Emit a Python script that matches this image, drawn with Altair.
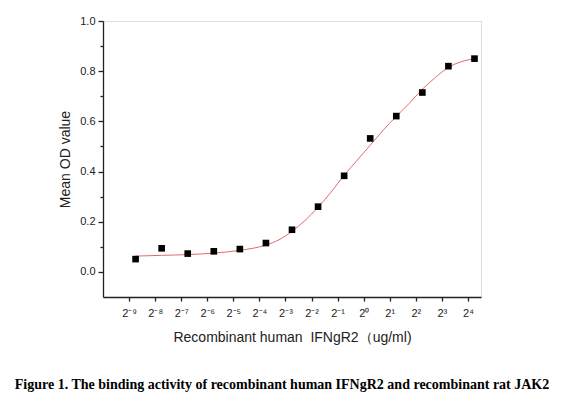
import altair as alt
import pandas as pd

# measured data points (x = log2 of concentration in ug/ml)
x_points = [-8.75, -7.75, -6.75, -5.75, -4.75, -3.75, -2.75, -1.75, -0.75, 0.25, 1.25, 2.25, 3.25, 4.25]
od_points = [0.051, 0.094, 0.073, 0.082, 0.091, 0.115, 0.168, 0.260, 0.383, 0.532, 0.621, 0.715, 0.820, 0.850]

# fitted curve
x_curve = [-8.75, -7.75, -6.75, -5.75, -4.75, -3.75, -3.25, -2.75, -2.25, -1.75, -1.25, -0.75,
           -0.25, 0.25, 0.75, 1.25, 1.75, 2.25, 2.75, 3.25, 3.75, 4.25]
od_curve = [0.063, 0.066, 0.069, 0.075, 0.086, 0.107, 0.128, 0.162, 0.205, 0.258, 0.318, 0.385,
            0.445, 0.505, 0.565, 0.620, 0.672, 0.728, 0.775, 0.815, 0.838, 0.850]

x_tick_values = [-9, -8, -7, -6, -5, -4, -3, -2, -1, 0, 1, 2, 3, 4]
x_tick_labels = ["2⁻⁹", "2⁻⁸", "2⁻⁷", "2⁻⁶", "2⁻⁵", "2⁻⁴", "2⁻³", "2⁻²", "2⁻¹",
                 "2⁰", "2¹", "2²", "2³", "2⁴"]
y_major = [0.0, 0.2, 0.4, 0.6, 0.8, 1.0]
y_minor = [0.1, 0.3, 0.5, 0.7, 0.9]

x_title = "Recombinant human\u00a0 IFNgR2（ug/ml)"
y_title = "Mean OD value"
caption = "Figure 1. The binding activity of recombinant human IFNgR2 and recombinant rat JAK2"

pts = pd.DataFrame({"x": x_points, "od": od_points})
crv = pd.DataFrame({"x": x_curve, "od": od_curve})

label_expr = "".join(
    f"datum.value == {v} ? '{l}' : " for v, l in zip(x_tick_values, x_tick_labels)
) + "''"

FONT = "Liberation Sans"
xscale = alt.Scale(domain=[-10, 4.5], nice=False, zero=False)
yscale = alt.Scale(domain=[-0.1, 1.0], nice=False, zero=False)

axis_common = dict(grid=False, domainColor="#222222", tickColor="#222222",
                   domainWidth=1.3, tickWidth=1.3, labelColor="#222222",
                   labelFont=FONT, titleFont=FONT, titleColor="#222222",
                   titleFontWeight="normal")

x_axis = alt.Axis(values=x_tick_values, labelExpr=label_expr, tickSize=4,
                  labelFontSize=11, labelPadding=6, title=x_title,
                  labelOverlap=False, labelBound=False,
                  titleFontSize=14, titlePadding=12, labelFlush=False,
                  **axis_common)

points = alt.Chart(pts).mark_point(shape="square", filled=True, color="black",
                                   size=44, opacity=1).encode(
    x=alt.X("x:Q", scale=xscale, axis=x_axis),
    y=alt.Y("od:Q", scale=yscale,
            axis=alt.Axis(values=y_major, format=".1f", tickSize=5, labelFontSize=11,
                          labelPadding=3, title=y_title, titleFontSize=14,
                          titlePadding=7, labelFlush=False, orient="left", **axis_common)),
)

curve = alt.Chart(crv).mark_line(interpolate="monotone", color="#e26a6a",
                                 strokeWidth=1).encode(
    x=alt.X("x:Q", scale=xscale, axis=x_axis),
    y=alt.Y("od:Q", scale=yscale,
            axis=alt.Axis(values=y_minor, labels=False, tickSize=3, domain=False,
                          title=None, orient="left", grid=False, tickColor="#222222",
                          tickWidth=1.3)),
)

chart = alt.layer(curve, points).resolve_axis(y="independent").properties(
    width=378, height=276,
    autosize=alt.AutoSizeParams(type="none"),
    padding={"left": 95, "top": 13, "right": 70, "bottom": 110},
    title=alt.TitleParams(caption, orient="bottom", anchor="middle", dx=-10, offset=34,
                          font="Liberation Serif", fontSize=14, fontWeight="bold",
                          color="black"),
).configure_view(stroke=None).configure(background="white").configure_axisX(
    labelOverlap=False)

chart.save("out.html", embed_options={"renderer": "svg", "actions": False})
